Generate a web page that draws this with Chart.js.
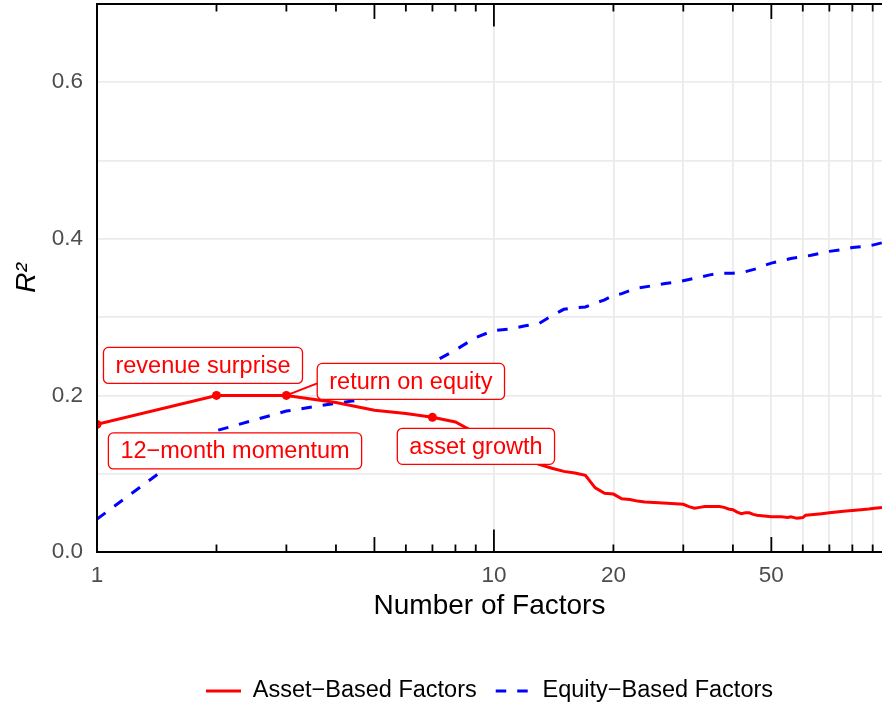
<!DOCTYPE html>
<html>
<head>
<meta charset="utf-8">
<script src="https://cdn.jsdelivr.net/npm/chart.js@4.4.1/dist/chart.umd.min.js"></script>
<style>
  html, body { margin: 0; padding: 0; background: #fff; }
  canvas { display: block; }
</style>
</head>
<body>
<canvas id="myChart" width="882" height="704"></canvas>
<script>
// asset-based factors, R^2 by number of factors
const assetFactors = [1, 2, 3, 4, 5, 6, 7, 8, 9, 10, 11, 12, 13, 14, 15, 16, 17, 18, 19, 20, 21, 22, 23, 24,
    26, 28, 30, 31, 32, 33, 34, 37, 38, 39, 40, 41, 42, 43, 44, 45, 46, 48, 50, 53, 55, 56, 58, 60, 61,
    64, 67, 70, 73, 76, 80, 84, 88, 91, 95];
const assetR2 = [0.163, 0.200, 0.200, 0.191, 0.181, 0.177, 0.172, 0.166, 0.152, 0.140, 0.128, 0.118, 0.112,
    0.107, 0.103, 0.101, 0.098, 0.082, 0.075, 0.074, 0.068, 0.067, 0.065, 0.064,
    0.063, 0.062, 0.061, 0.058, 0.056, 0.057, 0.058, 0.058, 0.057, 0.055, 0.054, 0.051, 0.049, 0.050,
    0.050, 0.048, 0.047, 0.046, 0.045, 0.045, 0.044, 0.045, 0.043, 0.044, 0.047,
    0.048, 0.049, 0.050, 0.051, 0.052, 0.053, 0.054, 0.055, 0.056, 0.057];

// equity-based factors
const equityFactors = [1, 2, 3, 4, 5, 6, 7, 8, 9, 10, 11, 12, 13, 14, 15, 16, 17, 18, 19, 20, 21, 22, 23,
    25, 27, 29, 31, 33, 35, 37, 40, 43, 46, 48, 50, 53, 56, 60, 63, 67, 70, 75, 80, 85, 90, 95];
const equityR2 = [0.042, 0.155, 0.180, 0.190, 0.197, 0.215, 0.242, 0.258, 0.274, 0.283, 0.285, 0.289, 0.292,
    0.302, 0.310, 0.312, 0.313, 0.318, 0.322, 0.328, 0.330, 0.334, 0.337,
    0.340, 0.343, 0.345, 0.348, 0.351, 0.354, 0.356, 0.356, 0.358, 0.362, 0.366, 0.369, 0.372, 0.375,
    0.377, 0.379, 0.382, 0.384, 0.386, 0.389, 0.390, 0.392, 0.395];

// labelled factors on the asset-based line
const labelTexts = ['12\u2212month momentum', 'revenue surprise', 'return on equity', 'asset growth'];
const labelFactors = [1, 2, 3, 7];

const seriesNames = ['Asset\u2212Based Factors', 'Equity\u2212Based Factors'];
const xTickLabels = [1, 10, 20, 50];
const xGridValues = [1, 10, 20, 30, 40, 50, 60, 70, 80, 90];
const yTickLabels = [0, 0.2, 0.4, 0.6];

const FONT = '"Liberation Sans", Arial, sans-serif';
const RED = '#ff0000';
const BLUE = '#0000ff';

// label box placement relative to its point (pixels)
const labelOffsets = [
    { dx: 138, dy: 26.5 },
    { dx: -13.5, dy: -30 },
    { dx: 124.5, dy: -14 },
    { dx: 43.5, dy: 29 }
];

function roundRectPath(ctx, x, y, w, h, r) {
    ctx.beginPath();
    ctx.moveTo(x + r, y);
    ctx.arcTo(x + w, y, x + w, y + h, r);
    ctx.arcTo(x + w, y + h, x, y + h, r);
    ctx.arcTo(x, y + h, x, y, r);
    ctx.arcTo(x, y, x + w, y, r);
    ctx.closePath();
}

const frameAndLabels = {
    id: 'frameAndLabels',
    afterDatasetsDraw(chart) {
        const { ctx, chartArea: a, scales: { x, y } } = chart;
        ctx.save();

        // axis lines (left, bottom, top)
        ctx.strokeStyle = '#000';
        ctx.lineWidth = 2;
        ctx.beginPath();
        ctx.moveTo(a.left, a.top);
        ctx.lineTo(a.left, a.bottom);
        ctx.moveTo(a.left - 1, a.bottom);
        ctx.lineTo(a.right, a.bottom);
        ctx.moveTo(a.left - 1, a.top);
        ctx.lineTo(a.right, a.top);
        ctx.stroke();

        // log ticks on top and bottom
        ctx.lineWidth = 1.8;
        ctx.beginPath();
        for (let dec = 1; dec <= 100; dec *= 10) {
            for (let m = 1; m <= 9; m++) {
                const v = m * dec;
                const px = x.getPixelForValue(v);
                if (px < a.left - 0.5 || px > a.right + 0.5) continue;
                const len = m === 1 ? 22.5 : (m === 5 ? 15 : 7.5);
                ctx.moveTo(px, a.bottom);
                ctx.lineTo(px, a.bottom - len);
                ctx.moveTo(px, a.top);
                ctx.lineTo(px, a.top + len);
            }
        }
        ctx.stroke();

        // labels
        ctx.font = '23.5px ' + FONT;
        ctx.textAlign = 'center';
        ctx.textBaseline = 'middle';
        labelTexts.forEach((text, i) => {
            const f = labelFactors[i];
            const val = assetR2[assetFactors.indexOf(f)];
            const px = x.getPixelForValue(f);
            const py = y.getPixelForValue(val);
            const cx = px + labelOffsets[i].dx;
            const cy = py + labelOffsets[i].dy;
            const w = ctx.measureText(text).width + 24;
            const h = 36;
            const L = cx - w / 2, R = cx + w / 2, T = cy - h / 2, B = cy + h / 2;

            // connector segment when the box is far from its point
            const nx = Math.min(Math.max(px, L), R);
            const ny = Math.min(Math.max(py, T), B);
            if (Math.hypot(px - nx, py - ny) > 22) {
                const ey = (px < L || px > R) ? cy + 2 : ny;
                ctx.strokeStyle = RED;
                ctx.lineWidth = 2;
                ctx.beginPath();
                ctx.moveTo(px, py);
                ctx.lineTo(nx, ey);
                ctx.stroke();
            }

            roundRectPath(ctx, L, T, w, h, 5);
            ctx.fillStyle = '#fff';
            ctx.fill();
            ctx.strokeStyle = RED;
            ctx.lineWidth = 1.3;
            ctx.stroke();
            ctx.fillStyle = RED;
            ctx.fillText(text, cx, cy + 1);
        });
        ctx.restore();
    }
};

const ctx = document.getElementById('myChart');

const chart = new Chart(ctx, {
    type: 'line',
    data: {
        datasets: [{
            label: seriesNames[0],
            data: assetFactors.map((f, i) => ({ x: f, y: assetR2[i] })),
            borderColor: RED,
            backgroundColor: RED,
            borderWidth: 3,
            pointRadius: (c) => labelFactors.includes(c.raw.x) ? 4.5 : 0,
            pointBackgroundColor: RED,
            pointBorderWidth: 0,
            tension: 0,
            clip: 0
        }, {
            label: seriesNames[1],
            data: equityFactors.map((f, i) => ({ x: f, y: equityR2[i] })),
            borderColor: BLUE,
            backgroundColor: BLUE,
            borderWidth: 3,
            borderDash: [10.5, 11],
            pointRadius: 0,
            tension: 0,
            clip: 0
        }]
    },
    options: {
        responsive: false,
        animation: false,
        events: [],
        devicePixelRatio: 1,
        layout: { autoPadding: false, padding: { top: 4, right: 0, bottom: -8.75, left: 0 } },
        scales: {
            x: {
                type: 'logarithmic',
                min: 1,
                max: 95,
                afterBuildTicks: (s) => { s.ticks = xGridValues.map(v => ({ value: v })); },
                afterFit: (s) => { s.height = 108.25; s.paddingLeft = 0; s.paddingRight = 0; },
                grid: { color: '#ebebeb', lineWidth: 1.8, drawTicks: false },
                border: { display: false },
                ticks: {
                    autoSkip: false,
                    maxRotation: 0,
                    padding: 10.5,
                    color: '#4d4d4d',
                    font: { family: FONT, size: 22.5 },
                    callback: (v) => xTickLabels.includes(v) ? String(v) : ''
                },
                title: {
                    display: true,
                    text: 'Number of Factors',
                    color: '#000',
                    font: { family: FONT, size: 28 },
                    padding: { top: 0, bottom: 37.5 }
                }
            },
            y: {
                min: 0,
                max: 0.7,
                afterFit: (s) => { s.width = 97; s.paddingTop = 0; s.paddingBottom = 0; },
                grid: { color: '#ebebeb', lineWidth: 1.8, drawTicks: false },
                border: { display: false },
                ticks: {
                    stepSize: 0.1,
                    padding: 14,
                    color: '#4d4d4d',
                    font: { family: FONT, size: 22.5 },
                    callback: (v) => yTickLabels.some(t => Math.abs(t - v) < 1e-6) ? v.toFixed(1) : ''
                },
                title: {
                    display: true,
                    text: 'R\u00b2',
                    color: '#000',
                    font: { family: FONT, size: 28, style: 'italic' },
                    padding: { top: 10, bottom: 0 }
                }
            }
        },
        plugins: {
            legend: {
                position: 'bottom',
                fullSize: false,
                labels: {
                    usePointStyle: true,
                    pointStyle: 'line',
                    pointStyleWidth: 35,
                    padding: 19,
                    color: '#000',
                    font: { family: FONT, size: 23.5 },
                    generateLabels: (c) => c.data.datasets.map((ds, i) => ({
                        text: ds.label,
                        fillStyle: ds.borderColor,
                        strokeStyle: ds.borderColor,
                        fontColor: '#000',
                        lineWidth: ds.borderWidth,
                        lineDash: ds.borderDash || [],
                        lineCap: 'butt',
                        pointStyle: 'line',
                        hidden: false,
                        datasetIndex: i
                    }))
                }
            },
            tooltip: { enabled: false }
        }
    },
    plugins: [frameAndLabels]
});
</script>
</body>
</html>
